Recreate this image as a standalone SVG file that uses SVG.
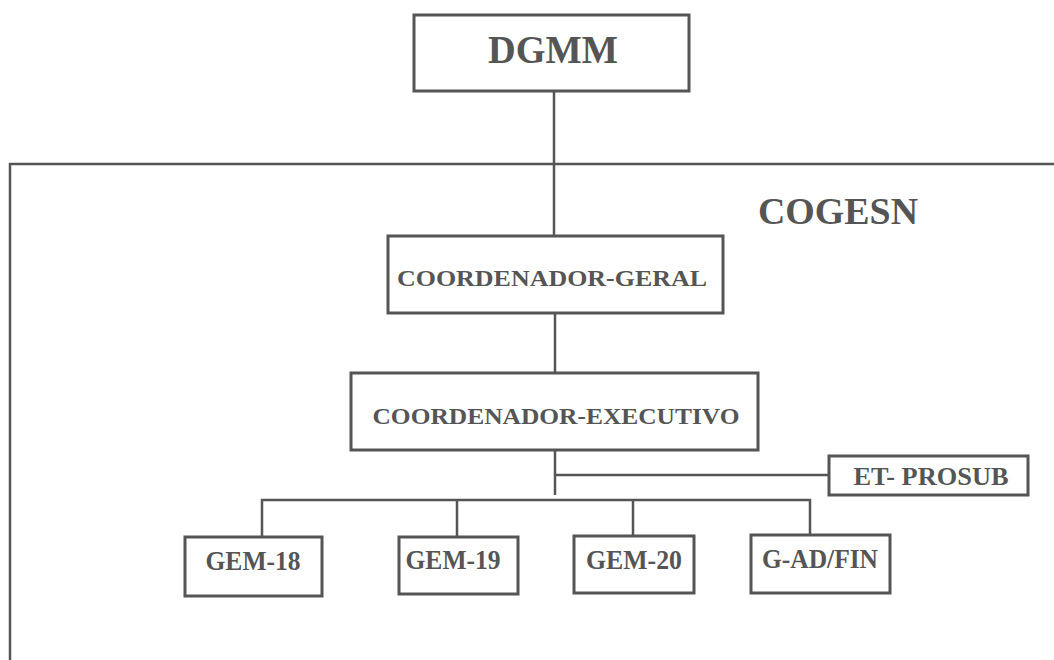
<svg xmlns="http://www.w3.org/2000/svg" width="1054" height="660" viewBox="0 0 1054 660">
<style>
.box{fill:#fff;stroke:#555;stroke-width:3}
.ln{fill:none;stroke:#555;stroke-width:2.5}
.t{font-family:"Liberation Serif","Times New Roman",serif;font-weight:bold;fill:#555;text-anchor:middle}
</style>
<rect width="1054" height="660" fill="#fff"/>
<g id="frame">
<path class="ln" d="M10,660 V164 H1054"/>
<text class="t" x="838" y="224" font-size="38" textLength="160" lengthAdjust="spacingAndGlyphs">COGESN</text>
</g>
<g id="connectors">
<path class="ln" d="M554,91 V236"/>
<path class="ln" d="M555,313 V373"/>
<path class="ln" d="M555,450 V495"/>
<path class="ln" d="M555,475 H829"/>
<path class="ln" d="M262,537 V500 H810 V535"/>
<path class="ln" d="M457,500 V537"/>
<path class="ln" d="M633,500 V536"/>
</g>
<g id="dgmm">
<rect class="box" x="414" y="15" width="275" height="76"/>
<text class="t" x="553" y="63" font-size="40" textLength="130" lengthAdjust="spacingAndGlyphs">DGMM</text>
</g>
<g id="coord-geral">
<rect class="box" x="388" y="236" width="335" height="77"/>
<text class="t" x="552" y="286" font-size="23" textLength="310" lengthAdjust="spacingAndGlyphs">COORDENADOR-GERAL</text>
</g>
<g id="coord-exec">
<rect class="box" x="351" y="373" width="407" height="77"/>
<text class="t" x="556" y="424" font-size="24" textLength="367" lengthAdjust="spacingAndGlyphs">COORDENADOR-EXECUTIVO</text>
</g>
<g id="et-prosub">
<rect class="box" x="829" y="456" width="199" height="39"/>
<text class="t" x="931" y="485" font-size="25" textLength="155" lengthAdjust="spacingAndGlyphs">ET- PROSUB</text>
</g>
<g id="gem-18">
<rect class="box" x="185" y="537" width="137" height="59"/>
<text class="t" x="253" y="570" font-size="27" textLength="95" lengthAdjust="spacingAndGlyphs">GEM-18</text>
</g>
<g id="gem-19">
<rect class="box" x="399" y="537" width="119" height="57"/>
<text class="t" x="453" y="569" font-size="27" textLength="95" lengthAdjust="spacingAndGlyphs">GEM-19</text>
</g>
<g id="gem-20">
<rect class="box" x="574" y="536" width="120" height="57"/>
<text class="t" x="634" y="569" font-size="27" textLength="96" lengthAdjust="spacingAndGlyphs">GEM-20</text>
</g>
<g id="g-ad-fin">
<rect class="box" x="751" y="535" width="139" height="58"/>
<text class="t" x="820" y="568" font-size="27" textLength="116" lengthAdjust="spacingAndGlyphs">G-AD/FIN</text>
</g>
</svg>
